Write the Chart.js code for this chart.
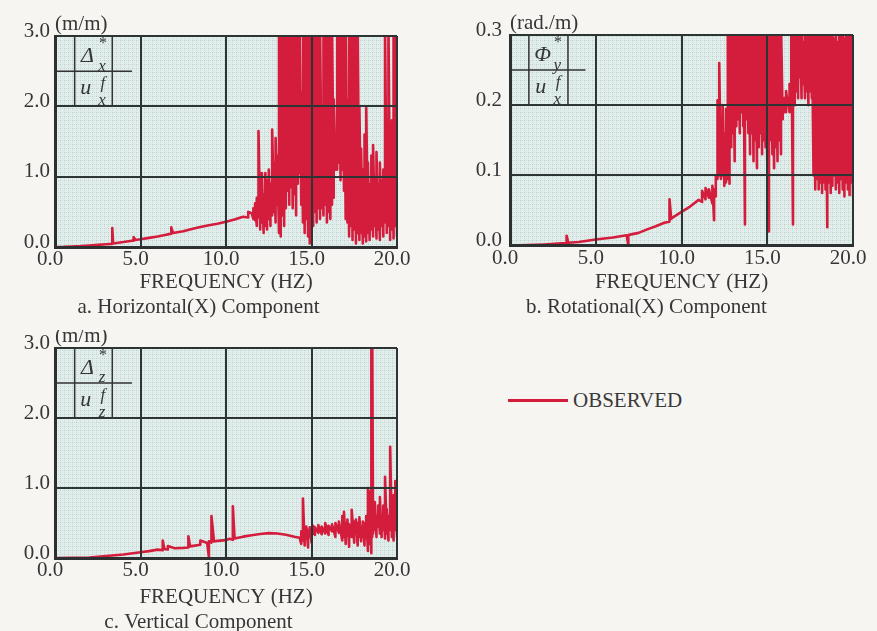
<!DOCTYPE html>
<html>
<head>
<meta charset="utf-8">
<script src="https://cdn.jsdelivr.net/npm/chart.js@4.4.1/dist/chart.umd.min.js"></script>
<style>
html,body{margin:0;padding:0;background:#f6f5f1;overflow:hidden;width:877px;height:631px;}
canvas{position:absolute;}
#legend{position:absolute;left:508px;top:388px;height:24px;font:21px "Liberation Serif",serif;color:#3a3a3a;display:flex;align-items:center;}
#legend .l{display:inline-block;width:60px;height:3px;background:#d41c3c;margin-right:5px;}
</style>
</head>
<body>
<canvas id="ca" width="420" height="320" style="left:0;top:0"></canvas>
<canvas id="cb" width="454" height="320" style="left:440px;top:0"></canvas>
<canvas id="cc" width="420" height="305" style="left:0;top:330px"></canvas>
<div id="legend"><span class="l"></span><span>OBSERVED</span></div>
<script>
// ---------- tick labels ----------
const xTickValues = [0, 5, 10, 15, 20];
const yTicksDisp = [0, 1, 2, 3];
const yTicksRot = [0, 0.1, 0.2, 0.3];

// ---------- a. Horizontal(X) component (m/m): frequency, lower and upper trace envelope ----------
const freqHorizontal = [0,0.5,1,1.5,2,2.5,3,3.3,3.35,3.4,4,4.5,4.6,4.7,5,5.5,6,6.5,6.8,6.9,7.5,8,8.5,9,9.5,10,10.5,11,11.3,11.5,
 11.6,11.7,11.8,11.9,12.0,12.1,12.2,12.3,12.4,12.5,12.6,12.7,12.8,12.9,13.0,13.1,13.2,13.3,13.4,13.5,13.6,13.7,13.8,13.9,14.0,14.1,14.2,14.3,14.4,14.5,
 14.6,14.7,14.8,14.9,15.0,15.1,15.2,15.3,15.4,15.5,15.6,15.7,15.8,15.9,16.0,16.1,16.2,16.3,16.4,16.5,16.6,16.7,16.8,16.9,17.0,17.1,17.2,17.3,17.4,17.5,
 17.6,17.7,17.8,17.9,18.0,18.1,18.2,18.3,18.4,18.5,18.6,18.7,18.8,18.9,19.0,19.1,19.2,19.3,19.4,19.5,19.6,19.7,19.8,19.9,20.0];
const lowHorizontal = [0,0.002,0.008,0.012,0.02,0.03,0.04,0.045,0.045,0.05,0.07,0.09,0.09,0.10,0.11,0.13,0.15,0.175,0.19,0.20,0.225,0.255,0.285,0.31,0.33,0.36,0.39,0.43,0.42,0.48,
 0.40,0.38,0.30,0.42,0.25,0.35,0.20,0.30,0.25,0.40,0.30,0.45,0.50,0.35,0.60,0.20,0.15,0.45,0.30,0.55,0.80,0.60,0.85,0.55,0.75,0.45,0.90,1.05,0.60,0.35,
 0.20,0.40,0.15,0.05,0.45,0.30,0.50,0.35,0.55,0.40,0.55,0.45,0.60,0.35,0.50,0.40,0.60,0.70,1.10,1.10,1.20,0.95,1.10,0.80,0.40,0.35,0.15,0.30,0.10,0.25,
 0.05,0.20,0.10,0.20,0.05,0.15,0.08,0.20,0.10,0.25,0.15,0.30,0.12,0.25,0.10,0.30,0.15,0.35,0.20,0.30,0.10,0.25,0.12,0.30,0.15];
const highHorizontal = [0,0.002,0.008,0.012,0.02,0.03,0.04,0.045,0.27,0.05,0.07,0.09,0.14,0.10,0.11,0.13,0.15,0.175,0.28,0.20,0.225,0.255,0.285,0.31,0.33,0.36,0.39,0.43,0.50,0.48,
 0.55,0.62,0.70,1.65,1.05,1.05,0.75,1.05,0.95,1.10,0.90,1.67,1.20,1.55,1.30,3.2,3.2,3.2,3.2,3.2,3.2,3.2,3.2,3.2,3.2,3.2,3.2,3.2,2.2,3.2,
 3.2,3.2,3.2,3.2,3.2,3.2,3.2,3.2,3.2,3.2,1.4,3.2,3.2,3.2,3.2,3.2,3.2,2.1,1.3,3.2,3.2,3.2,3.2,3.2,3.2,2.1,3.2,3.2,3.2,3.2,
 3.2,3.2,2.0,1.40,1.10,1.60,1.98,1.20,0.90,1.30,1.45,1.00,1.35,0.90,1.20,0.95,1.10,3.2,1.30,3.2,1.40,1.80,3.2,3.2,1.5];

// ---------- b. Rotational(X) component (rad./m) ----------
const freqRotational = [0,1,2,3,3.3,3.4,4,5,6,6.8,6.9,7,7.5,8,8.5,9,9.3,9.4,9.5,10,10.5,11,11.2,11.4,11.6,11.8,11.9,12.0,
 12.1,12.2,12.3,12.4,12.5,12.6,12.7,12.8,12.9,13.0,13.1,13.2,13.3,13.4,13.5,13.6,13.7,13.8,13.9,14.0,14.1,14.2,14.3,14.4,14.5,14.6,14.7,14.8,14.9,15.0,
 15.1,15.2,15.3,15.4,15.5,15.6,15.7,15.8,15.9,16.0,16.1,16.2,16.3,16.4,16.5,16.6,16.7,16.8,16.9,17.0,17.1,17.2,17.3,17.4,17.5,17.6,17.7,17.8,17.9,18.0,
 18.1,18.2,18.3,18.4,18.5,18.6,18.7,18.8,18.9,19.0,19.1,19.2,19.3,19.4,19.5,19.6,19.7,19.8,19.9,20.0];
const lowRotational = [0,0.0005,0.0015,0.003,0.003,0.004,0.005,0.0085,0.0115,0.0145,0.0,0.0155,0.018,0.023,0.0275,0.0325,0.034,0.038,0.04,0.048,0.0555,0.065,0.062,0.066,0.068,0.060,0.036,0.070,
 0.095,0.100,0.095,0.100,0.085,0.090,0.095,0.088,0.14,0.16,0.12,0.17,0.18,0.16,0.19,0.17,0.03,0.18,0.16,0.13,0.16,0.12,0.15,0.11,0.14,0.16,0.13,0.15,0.14,0.12,
 0.02,0.15,0.13,0.11,0.14,0.12,0.15,0.13,0.18,0.19,0.19,0.20,0.19,0.20,0.03,0.20,0.22,0.21,0.24,0.21,0.23,0.21,0.22,0.20,0.22,0.21,0.10,0.08,0.095,0.08,
 0.09,0.075,0.09,0.08,0.026,0.09,0.075,0.085,0.10,0.08,0.09,0.075,0.095,0.08,0.07,0.09,0.08,0.072,0.09,0.07];
const highRotational = [0,0.0005,0.0015,0.003,0.014,0.004,0.005,0.0085,0.0115,0.0145,0.015,0.0155,0.018,0.023,0.0275,0.0325,0.066,0.038,0.04,0.048,0.0555,0.065,0.078,0.082,0.080,0.085,0.080,0.100,
 0.207,0.26,0.18,0.20,0.16,0.195,0.32,0.32,0.32,0.32,0.32,0.32,0.32,0.32,0.32,0.32,0.32,0.32,0.32,0.32,0.32,0.32,0.32,0.32,0.32,0.32,0.32,0.32,0.32,0.32,
 0.32,0.32,0.32,0.32,0.32,0.32,0.32,0.32,0.21,0.21,0.22,0.21,0.23,0.32,0.32,0.32,0.32,0.32,0.32,0.32,0.29,0.32,0.32,0.32,0.30,0.32,0.32,0.32,0.32,0.32,
 0.32,0.32,0.32,0.32,0.32,0.32,0.32,0.32,0.295,0.32,0.29,0.32,0.32,0.32,0.295,0.32,0.32,0.32,0.32,0.29];

// ---------- c. Vertical component (m/m) ----------
const freqVertical = [0,1,2,3,4,5,5.5,6,6.3,6.4,6.6,7,7.5,7.8,7.9,8,8.5,8.9,9,9.15,9.3,9.5,10,10.2,10.4,10.5,11,11.5,12,12.5,13,13.5,14,14.3,14.4,14.5,
 14.6,14.7,14.8,14.9,15,15.1,15.2,15.4,15.6,15.8,16,16.2,16.4,16.6,16.8,16.9,17,17.1,17.2,17.35,17.5,17.6,17.7,17.8,17.9,18,18.1,18.2,18.3,18.4,
 18.5,18.55,18.6,18.7,18.8,18.9,19,19.1,19.2,19.3,19.4,19.5,19.6,19.7,19.8,19.9,20];
const lowVertical = [0,0.002,0.008,0.028,0.05,0.083,0.098,0.12,0.11,0.13,0.12,0.14,0.145,0.15,0.165,0.17,0.19,0.215,0.01,0.22,0.235,0.245,0.255,0.275,0.26,0.28,0.305,0.325,0.342,0.355,0.35,0.333,0.305,0.29,0.20,0.25,
 0.18,0.28,0.15,0.30,0.22,0.35,0.33,0.36,0.34,0.35,0.33,0.38,0.30,0.36,0.25,0.30,0.20,0.32,0.16,0.30,0.22,0.35,0.18,0.30,0.24,0.30,0.18,0.28,0.10,0.20,
 0.07,0.30,0.35,0.40,0.30,0.45,0.35,0.30,0.40,0.28,0.35,0.25,0.40,0.30,0.25,0.40,0.30];
const highVertical = [0,0.002,0.008,0.028,0.05,0.083,0.098,0.12,0.25,0.13,0.17,0.14,0.145,0.31,0.165,0.17,0.25,0.215,0.24,0.60,0.235,0.245,0.255,0.275,0.74,0.28,0.305,0.325,0.342,0.355,0.35,0.333,0.305,0.29,0.38,0.85,
 0.42,0.45,0.40,0.44,0.38,0.46,0.44,0.47,0.45,0.50,0.46,0.48,0.50,0.52,0.60,0.66,0.50,0.55,0.48,0.69,0.52,0.55,0.50,0.58,0.45,0.52,0.50,0.60,1.00,0.95,
 3.3,3.3,0.55,0.80,0.60,0.75,0.87,0.60,0.75,1.16,0.70,0.60,1.59,0.80,0.90,1.10,0.70];

// ---------- helpers ----------
const FONT = '"Liberation Serif", "Times New Roman", serif';
const TEXT = '#363636';
const RED = '#d41c3c';

function envelope(freq, low, high) {
  const pts = [];
  for (let i = 0; i < freq.length; i++) {
    pts.push({x: freq[i], y: low[i]});
    if (high[i] !== low[i]) pts.push({x: freq[i], y: high[i]});
  }
  return pts;
}

function makePattern(ctx) {
  const t = document.createElement('canvas');
  t.width = 4; t.height = 4;
  const g = t.getContext('2d');
  g.fillStyle = '#e1edeb'; g.fillRect(0, 0, 4, 4);
  g.fillStyle = '#b9cdca'; g.fillRect(0, 0, 1, 1);
  g.fillStyle = '#cbdcd9'; g.fillRect(2, 0, 1, 1); g.fillRect(0, 2, 1, 1);
  return ctx.createPattern(t, 'repeat');
}

const plotBackground = {
  id: 'plotBackground',
  beforeDraw(chart) {
    const {ctx, chartArea: a} = chart;
    ctx.save();
    ctx.fillStyle = makePattern(ctx);
    ctx.fillRect(a.left, a.top, a.right - a.left, a.bottom - a.top);
    ctx.restore();
  }
};

const fractionBox = {
  id: 'fractionBox',
  afterDatasetsDraw(chart, args, o) {
    const {ctx, scales: {x, y}, chartArea: a} = chart;
    const span = y.max - y.min;
    const Y = f => y.getPixelForValue(y.min + f * span);
    const X = v => x.getPixelForValue(v);
    ctx.save();
    ctx.strokeStyle = '#333'; ctx.lineWidth = 1.5;
    ctx.beginPath();
    ctx.moveTo(X(o.col1), Y(1)); ctx.lineTo(X(o.col1), Y(2 / 3));
    ctx.moveTo(X(o.col2), Y(1)); ctx.lineTo(X(o.col2), Y(2 / 3));
    ctx.moveTo(X(0), Y(5 / 6)); ctx.lineTo(X(o.barEnd), Y(5 / 6));
    ctx.stroke();
    ctx.fillStyle = TEXT; ctx.textAlign = 'center'; ctx.textBaseline = 'middle';
    ctx.font = 'italic 22px ' + FONT;
    ctx.fillText(o.top[0], X(1.9), Y(0.905));
    ctx.fillText(o.bottom[0], X(1.8), Y(0.752));
    ctx.font = '16px ' + FONT;
    ctx.fillText(o.top[1], X(2.8), Y(0.962));
    ctx.font = 'italic 17px ' + FONT;
    ctx.fillText(o.bottom[1], X(2.8), Y(0.776));
    ctx.fillText(o.top[2], X(2.75), Y(0.857));
    ctx.fillText(o.bottom[2], X(2.75), Y(0.695));
    // unit label
    ctx.font = '21px ' + FONT; ctx.textAlign = 'left';
    ctx.fillText(o.unit, a.left, a.top - 12);
    ctx.restore();
  }
};

function makeChart(id, freq, low, high, cfg) {
  const yTicks = cfg.yTicks;
  return new Chart(document.getElementById(id), {
    type: 'line',
    data: {
      datasets: [{
        label: 'OBSERVED',
        data: envelope(freq, low, high),
        borderColor: RED,
        borderWidth: 2.6,
        borderJoinStyle: 'round',
        pointRadius: 0,
        tension: 0,
        clip: 0
      }]
    },
    options: {
      responsive: false,
      animation: false,
      devicePixelRatio: 1,
      layout: {padding: {top: cfg.padTop, left: 0, right: cfg.padRight, bottom: 0}},
      scales: {
        x: {
          type: 'linear', min: 0, max: 20,
          afterBuildTicks: s => { s.ticks = xTickValues.map(v => ({value: v})); },
          afterFit: s => { s.height = cfg.xHeight; },
          ticks: {callback: v => Number(v).toFixed(1), font: {family: FONT, size: 21}, color: TEXT,
                  padding: 0, labelOffset: -5, maxRotation: 0, autoSkip: false, z: 1},
          grid: {color: '#2c3434', lineWidth: 2, drawTicks: false, z: 1},
          border: {display: true, color: '#2c3030', width: 3, z: 2},
          title: {display: true, text: 'FREQUENCY (HZ)', font: {family: FONT, size: 21}, color: TEXT, padding: 0}
        },
        y: {
          min: 0, max: yTicks[yTicks.length - 1],
          afterBuildTicks: s => { s.ticks = yTicks.map(v => ({value: v})); },
          afterFit: s => { s.width = cfg.yWidth; },
          ticks: {callback: v => Number(v).toFixed(1), font: {family: FONT, size: 21}, color: TEXT,
                  padding: cfg.yPad, labelOffset: -5, z: 1},
          grid: {color: '#2c3434', lineWidth: 2, drawTicks: false, z: 1},
          border: {display: true, color: '#2c3030', width: 3, z: 2}
        }
      },
      plugins: {
        legend: {display: false},
        tooltip: {enabled: false},
        title: {display: true, position: 'bottom', text: cfg.caption,
                font: {family: FONT, size: 21, weight: 'normal', lineHeight: 1.2}, color: TEXT, padding: 0},
        fractionBox: cfg.fraction
      }
    },
    plugins: [plotBackground, fractionBox]
  });
}

makeChart('ca', freqHorizontal, lowHorizontal, highHorizontal, {
  yTicks: yTicksDisp, padTop: 36, padRight: 23, xHeight: 47.8, yWidth: 55, yPad: 5,
  caption: 'a. Horizontal(X) Component',
  fraction: {unit: '(m/m)', col1: 1.15, col2: 3.35, barEnd: 4.5, top: ['Δ', '*', 'x'], bottom: ['u', 'f', 'x']}
});
makeChart('cb', freqRotational, lowRotational, highRotational, {
  yTicks: yTicksRot, padTop: 35, padRight: 41, xHeight: 49.3, yWidth: 70, yPad: 8,
  caption: 'b. Rotational(X) Component',
  fraction: {unit: '(rad./m)', col1: 1.1, col2: 3.38, barEnd: 4.4, top: ['Φ', '*', 'y'], bottom: ['u', 'f', 'x']}
});
makeChart('cc', freqVertical, lowVertical, highVertical, {
  yTicks: yTicksDisp, padTop: 18, padRight: 23, xHeight: 51.8, yWidth: 55, yPad: 5,
  caption: 'c. Vertical Component',
  fraction: {unit: '(m/m)', col1: 1.15, col2: 3.35, barEnd: 4.5, top: ['Δ', '*', 'z'], bottom: ['u', 'f', 'z']}
});
</script>
</body>
</html>
